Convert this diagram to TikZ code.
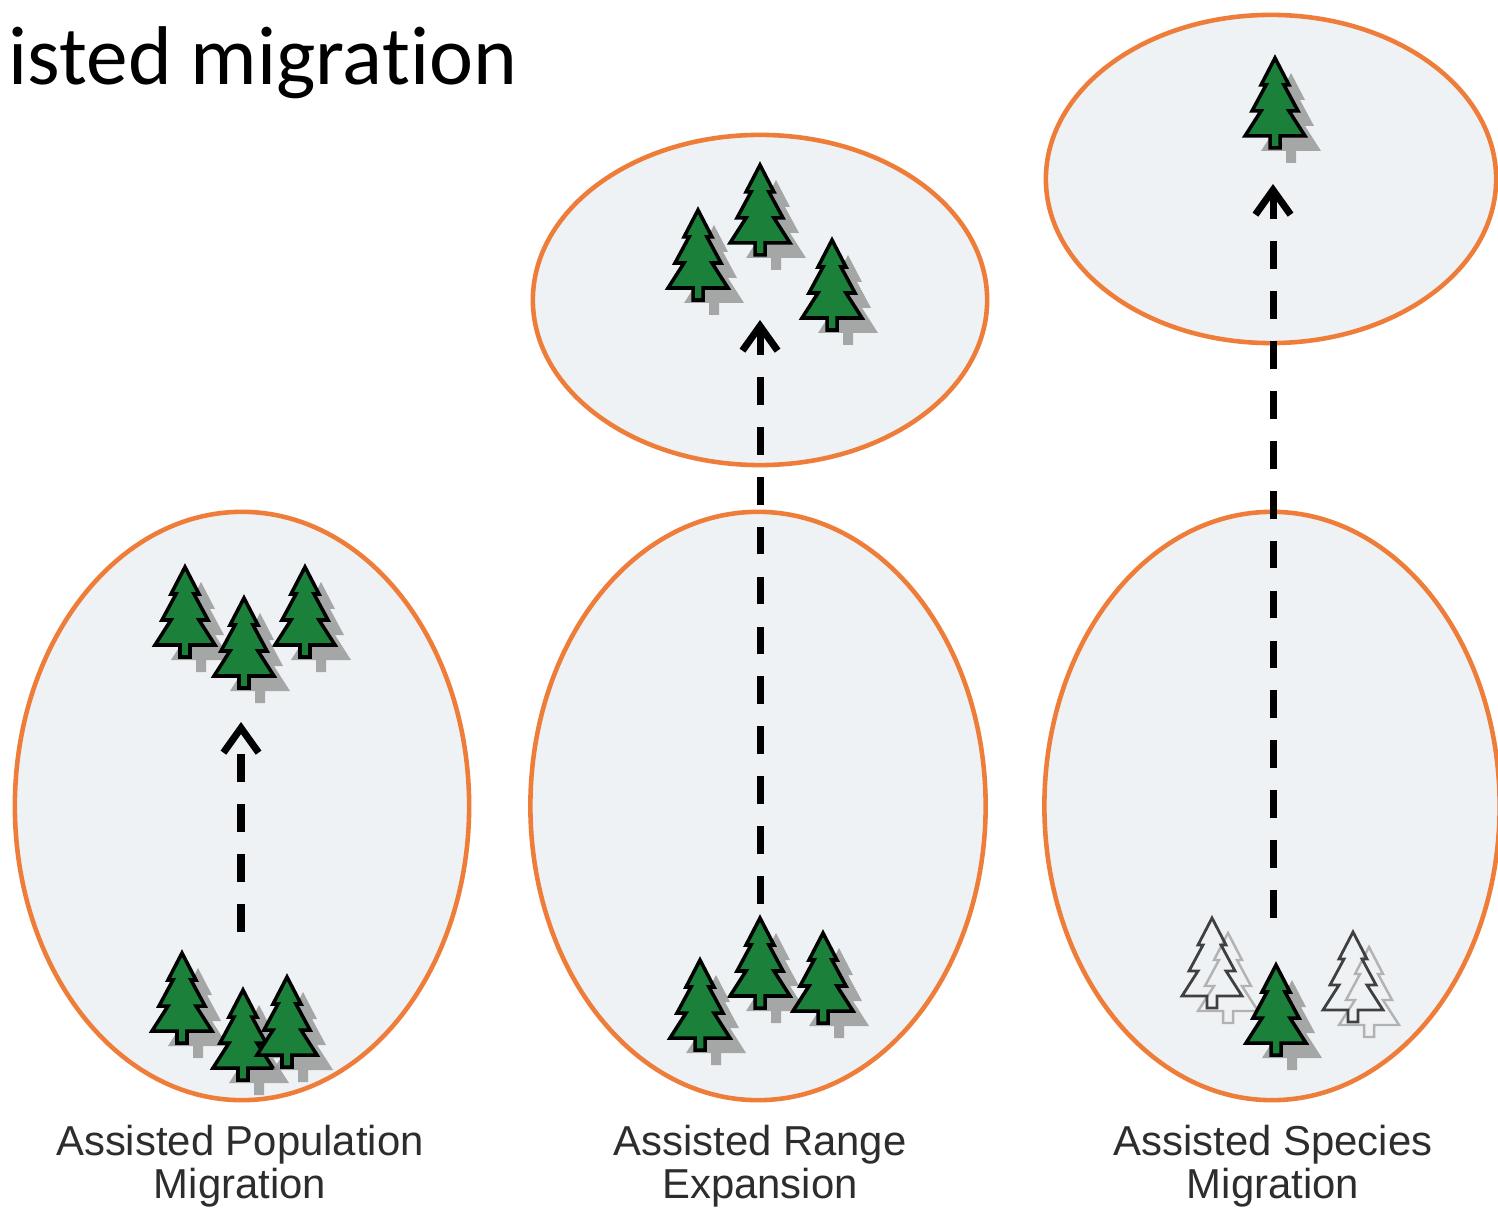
\documentclass[tikz,border=0pt]{standalone}
\usepackage{fontspec}
\usetikzlibrary{arrows.meta, positioning, shapes.geometric}
\newfontfamily\fontetitulo[RawFeature={-liga;-clig;-calt;-dlig}]{Carlito}
\newfontfamily\fonterotulo{Liberation Sans}
\definecolor{laranja}{RGB}{239, 125, 58}
\definecolor{fundo}{RGB}{239, 242, 245}
\definecolor{pinho}{RGB}{26, 128, 58}
\definecolor{cinzaTexto}{RGB}{45, 45, 45}
\tikzset{
  % one tree crown, coordinates in pixels from the tip
  pics/copa/.style={code={
    \path[pic actions] (0,0) -- (14,27) -- (9,27) -- (23,53) -- (14,53)
      -- (30,78) -- (5,78) -- (5,90) -- (-5,90) -- (-5,78) -- (-30,78)
      -- (-14,53) -- (-23,53) -- (-9,27) -- (-14,27) -- cycle;
  }},
  pics/pinheiro/.style={code={
    \pic[fill=black!40, fill opacity=0.85] at (16,15) {copa};
    \pic[fill=pinho, draw=black, line width=1pt] {copa};
  }},
  pics/fantasma/.style={code={
    \pic[draw=black!30, line width=0.7pt] at (16,15) {copa};
    \pic[draw=black!75, line width=0.8pt] {copa};
  }},
}

\begin{document}
\begin{tikzpicture}[
    x=0.01cm, y=-0.01cm,
    ilha/.style={
        ellipse,
        draw=laranja,
        fill=fundo,
        line width=1.3pt,
        inner sep=0pt
    },
    seta/.style={
        line width=2pt,
        dash pattern=on 7.9pt off 6.3pt,
        -{Straight Barb[length=7pt, width=10pt, line width=2pt]}
    },
    legenda/.style={
        align=center,
        inner sep=0pt,
        font=\fonterotulo\fontsize{11.9}{12.3}\selectfont,
        text=cinzaTexto
    }
]

\useasboundingbox (0,0) rectangle (1498,1210);
\fill[white] (0,0) rectangle (1498,1210);

\node[anchor=base west, inner sep=0pt, font=\fontetitulo\fontsize{23.7}{26}\selectfont]
  (titulo) at (8,85) {isted migrat\kern0pt ion};

% ranges
\node[ilha, minimum width=4.54cm, minimum height=5.88cm] (origemPop) at (242,806) {};
\node[ilha, minimum width=4.55cm, minimum height=5.88cm] (origemRange) at (758,806) {};
\node[ilha, minimum width=4.55cm, minimum height=5.88cm] (origemSpp) at (1272,806) {};
\node[ilha, minimum width=4.54cm, minimum height=3.30cm] (destinoRange) at (760,300) {};
\node[ilha, minimum width=4.50cm, minimum height=3.28cm] (destinoSpp) at (1271,179) {};

% moves
\coordinate (popDe) at (241,932);
\coordinate (popAte) at (241,722);
\coordinate (rangeDe) at (760,904);
\coordinate (rangeAte) at (760,320);
\coordinate (sppDe) at (1273,918);
\coordinate (sppAte) at (1273,184);
\draw[seta] (popDe) -- (popAte);
\draw[seta] (rangeDe) -- (rangeAte);
\draw[seta] (sppDe) -- (sppAte);

% trees
\pic at (185,567) {pinheiro};
\pic at (305,567) {pinheiro};
\pic at (244,598) {pinheiro};

\pic at (182,953) {pinheiro};
\pic at (243,990) {pinheiro};
\pic at (287,977) {pinheiro};

\pic at (760,165) {pinheiro};
\pic at (698,210) {pinheiro};
\pic at (832,240) {pinheiro};

\pic at (760,918) {pinheiro};
\pic at (823,933) {pinheiro};
\pic at (700,960) {pinheiro};

\pic at (1275,58) {pinheiro};

\pic at (1212,918) {fantasma};
\pic at (1353,932) {fantasma};
\pic at (1276,965) {pinheiro};

% captions
\node[legenda] (lblPop) at (240,1166) {Assisted Population\\Migration};
\node[legenda] (lblRange) at (760,1166) {Assisted Range\\Expansion};
\node[legenda] (lblSpp) at (1273,1166) {Assisted Species\\Migration};

\end{tikzpicture}
\end{document}
